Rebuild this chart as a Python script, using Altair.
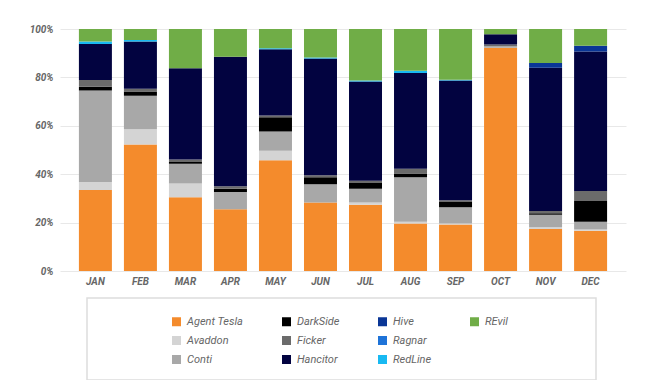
import altair as alt
import pandas as pd

months = ["JAN", "FEB", "MAR", "APR", "MAY", "JUN", "JUL", "AUG", "SEP", "OCT", "NOV", "DEC"]

families = ["Agent Tesla", "Avaddon", "Conti", "DarkSide", "Ficker",
            "Hancitor", "Hive", "Ragnar", "RedLine", "REvil"]

agent_tesla = [33.5, 52.3, 30.5, 25.5, 45.8, 28.3, 27.4, 19.6, 19.2, 92.3, 17.4, 16.6]
avaddon     = [3.3, 6.3, 5.7, 0.0, 3.9, 0.0, 0.9, 0.8, 0.4, 0.0, 0.7, 0.5]
conti       = [37.8, 13.8, 8.1, 7.1, 7.9, 7.5, 5.7, 18.3, 6.7, 0.7, 5.1, 3.3]
darkside    = [1.5, 1.8, 0.7, 1.4, 5.9, 2.9, 2.4, 1.6, 2.2, 0.0, 0.7, 8.5]
ficker      = [2.8, 1.1, 1.1, 1.0, 0.8, 0.9, 0.9, 2.0, 0.7, 0.6, 0.9, 4.2]
hancitor    = [14.9, 19.5, 37.7, 53.5, 27.3, 48.2, 41.0, 39.5, 49.5, 4.2, 59.2, 57.6]
hive        = [0.0, 0.0, 0.0, 0.0, 0.0, 0.0, 0.0, 0.0, 0.0, 0.0, 2.0, 2.4]
ragnar      = [0.0, 0.0, 0.0, 0.0, 0.0, 0.0, 0.0, 0.0, 0.0, 0.0, 0.0, 0.0]
redline     = [1.0, 0.7, 0.0, 0.0, 0.4, 0.4, 0.4, 0.9, 0.3, 0.0, 0.0, 0.0]
revil       = [5.2, 4.5, 16.2, 11.5, 8.0, 11.8, 21.3, 17.3, 21.0, 2.2, 14.0, 6.9]

series = [agent_tesla, avaddon, conti, darkside, ficker,
          hancitor, hive, ragnar, redline, revil]

colors = ["#F48B2C", "#D4D4D4", "#A8A8A8", "#000000", "#6B6B6B",
          "#020340", "#0A3696", "#1E73D8", "#18B9F2", "#70AD47"]

# two empty legend slots so the legend fills 3 rows column by column (3/3/3/1)
legend_domain = families + [" ", "  "]
legend_range = colors + ["rgba(0,0,0,0)", "rgba(0,0,0,0)"]

rows = []
for rank, (fam, vals) in enumerate(zip(families, series)):
    for m, v in zip(months, vals):
        rows.append({"month": m, "family": fam, "share": v, "rank": rank})
df = pd.DataFrame(rows)

label_font = "Roboto"

bars = alt.Chart(df).mark_bar().encode(
    x=alt.X("month:N", sort=months,
            scale=alt.Scale(paddingInner=0.267, paddingOuter=0.42),
            axis=alt.Axis(title=None, labelAngle=0, domain=False, ticks=False,
                          labelPadding=5, labelFont=label_font, labelFontSize=10,
                          labelFontStyle="italic", labelFontWeight="bold",
                          labelColor="#666666")),
    y=alt.Y("share:Q", stack="normalize",
            scale=alt.Scale(domain=[0, 1]),
            axis=alt.Axis(title=None, format=".0%", values=[0, 0.2, 0.4, 0.6, 0.8, 1.0],
                          domain=False, ticks=False, grid=True, gridColor="#E8E8E8",
                          labelPadding=7, labelFont=label_font, labelFontSize=10,
                          labelFontStyle="italic", labelFontWeight="bold",
                          labelColor="#666666")),
    color=alt.Color("family:N",
                    scale=alt.Scale(domain=legend_domain, range=legend_range),
                    legend=alt.Legend(title=None, orient="none", legendX=111, legendY=287,
                                      columns=4, columnPadding=37, rowPadding=7,
                                      gridAlign="each", symbolType="square",
                                      symbolSize=81, symbolStrokeWidth=0,
                                      labelFont=label_font, labelFontSize=11,
                                      labelFontStyle="italic", labelColor="#666666",
                                      labelOffset=5, padding=0)),
    order=alt.Order("rank:Q", sort="ascending"),
)

frame = alt.Chart(pd.DataFrame({"f": [0]})).mark_rect(
    fillOpacity=0, stroke="#DDDDDD", strokeWidth=1.5
).encode(
    x=alt.value(27), x2=alt.value(536), y=alt.value(269), y2=alt.value(351)
)

chart = alt.layer(frame, bars).properties(
    width=566, height=242,
    autosize=alt.AutoSizeParams(type="none"),
    padding={"left": 52, "top": 21, "right": 30, "bottom": 109},
    background="white",
).configure_view(stroke=None)

chart.save("out.html", embed_options={"renderer": "svg", "actions": False})
